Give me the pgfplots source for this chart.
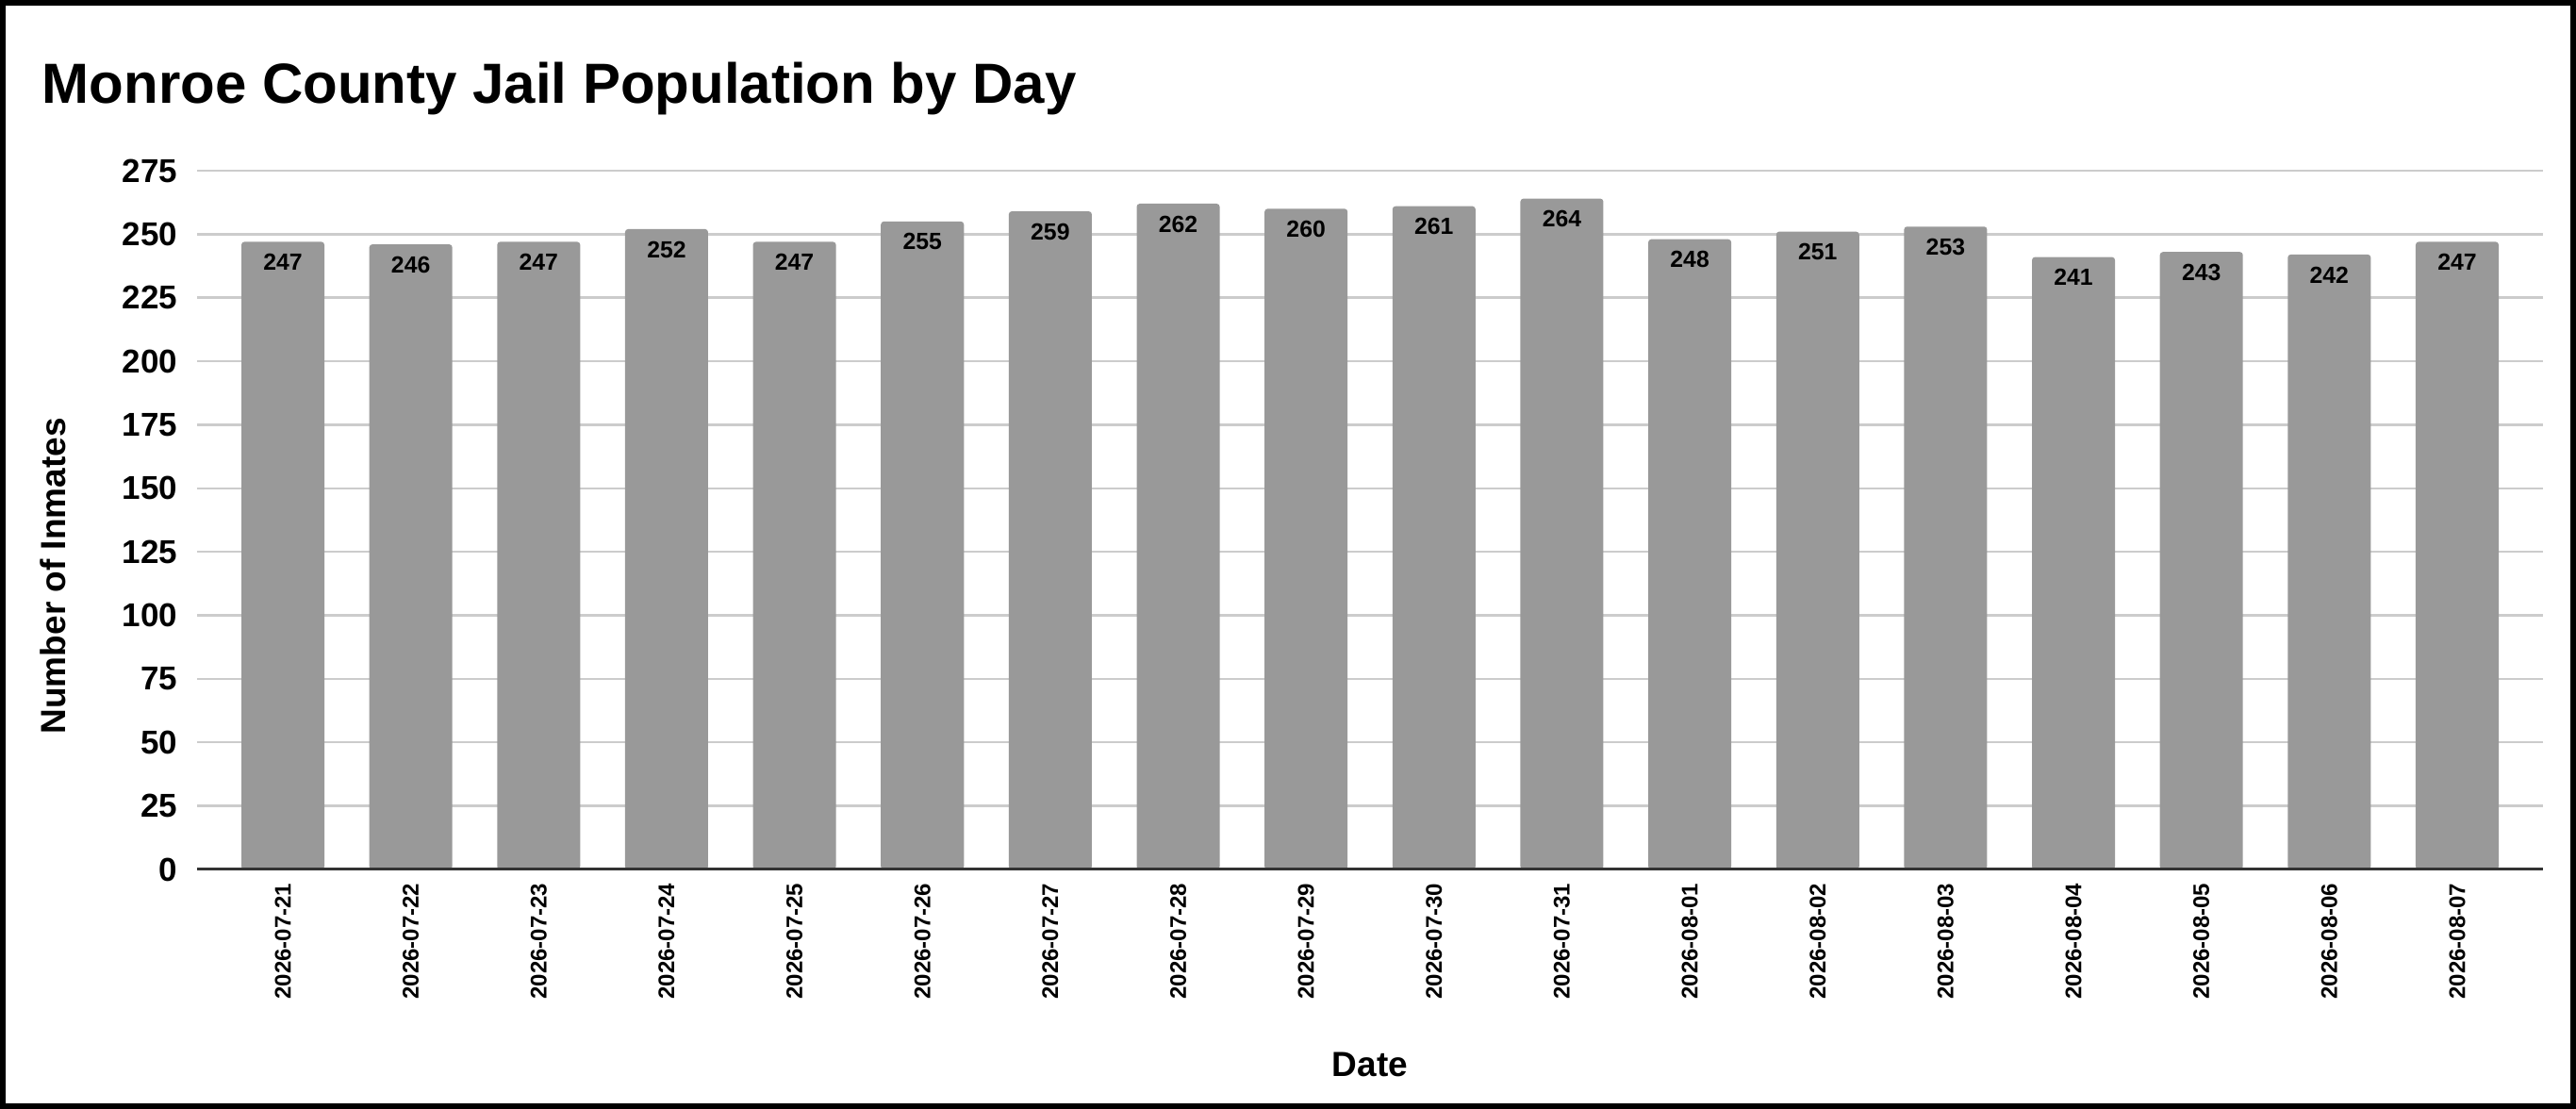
\documentclass[border=0pt]{standalone}
\usepackage{pgfplots}
\pgfplotsset{compat=1.18}
\usepackage{fontspec}
\setmainfont{Liberation Sans}
\definecolor{barc}{HTML}{999999}
\definecolor{gridc}{HTML}{CCCCCC}
\definecolor{axc}{HTML}{333333}
\begin{document}
\begin{tikzpicture}
\useasboundingbox (0,0) rectangle (683pt,294pt);
\draw[black, line width=1.6pt] (0.8pt,0.8pt) rectangle (682.2pt,293.2pt);
\node[anchor=base west, inner sep=0pt, font=\fontsize{15pt}{18pt}\selectfont\bfseries] at (11pt,266.5pt) {Monroe County Jail Population by Day};
\begin{axis}[
  at={(52.25pt,63.5pt)}, anchor=south west,
  scale only axis, width=622pt, height=185.25pt,
  xmin=-0.671, xmax=17.671, ymin=0, ymax=275,
  ybar, bar width=0.649,
  axis x line*=bottom, axis y line*=left,
  y axis line style={draw=none}, x axis line style={draw=none},
  major tick length=0pt,
  ytick={0,25,...,275},
  ymajorgrids, grid style={gridc, line width=0.6pt},
  xtick=data,
  xticklabels={2026-07-21,2026-07-22,2026-07-23,2026-07-24,2026-07-25,2026-07-26,2026-07-27,2026-07-28,2026-07-29,2026-07-30,2026-07-31,2026-08-01,2026-08-02,2026-08-03,2026-08-04,2026-08-05,2026-08-06,2026-08-07},
  /pgf/number format/assume math mode=true,
  yticklabel style={font=\fontsize{8.75pt}{10pt}\selectfont\bfseries, inner sep=0pt, anchor=east},
  yticklabel shift=5pt,
  xticklabel style={font=\fontsize{6pt}{7pt}\selectfont\bfseries, inner sep=0pt, rotate=90, anchor=east},
  xticklabel shift=3.5pt,
  xlabel={Date}, ylabel={Number of Inmates},
  every axis x label/.style={at={(axis description cs:0.5,-0.2787)}, anchor=center, inner sep=0pt, font=\fontsize{9.25pt}{11pt}\selectfont\bfseries},
  every axis y label/.style={at={(axis description cs:-0.0615,0.42)}, rotate=90, anchor=center, inner sep=0pt, font=\fontsize{9.25pt}{11pt}\selectfont\bfseries},
  nodes near coords,
  every node near coord/.append style={anchor=north, yshift=-3pt, inner sep=0pt, font=\fontsize{6.2pt}{7pt}\selectfont\bfseries, text=black},
  clip=false,
]
\addplot[fill=barc, draw=none, rounded corners=0.8pt] coordinates {
(0,247) (1,246) (2,247) (3,252) (4,247) (5,255) (6,259) (7,262) (8,260)
(9,261) (10,264) (11,248) (12,251) (13,253) (14,241) (15,243) (16,242) (17,247)};
\draw[axc, line width=0.75pt] (rel axis cs:0,0) -- (rel axis cs:1,0);
\end{axis}
\end{tikzpicture}
\end{document}
